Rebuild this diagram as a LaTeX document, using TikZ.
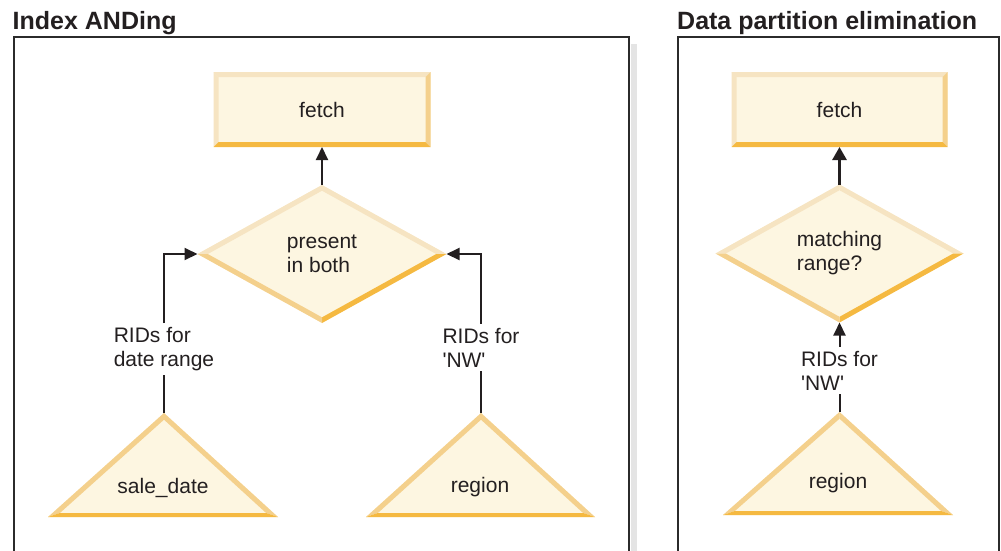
\documentclass[tikz,border=0pt]{standalone}
\usepackage{fontspec}
\setmainfont{Liberation Sans}
\usetikzlibrary{arrows.meta,calc,shapes.geometric}
\definecolor{cream}{HTML}{FDF6E1}
\definecolor{bevP}{HTML}{F6E4C2}
\definecolor{bevM}{HTML}{F4D08C}
\definecolor{bevO}{HTML}{F5B941}
\definecolor{ink}{HTML}{231F20}
\definecolor{framec}{HTML}{2B2B2B}
\definecolor{shadowc}{HTML}{E4E4E4}
\newcommand\bevbox[1]{%
 \fill[bevP] (#1.north west) -- (#1.north east) -- ($(#1.north east)+(-5,5)$) -- ($(#1.north west)+(5,5)$) -- cycle;
 \fill[bevP] (#1.north west) -- ($(#1.north west)+(5,5)$) -- ($(#1.south west)+(5,-5)$) -- (#1.south west) -- cycle;
 \fill[bevM] (#1.north east) -- ($(#1.north east)+(-5,5)$) -- ($(#1.south east)+(-5,-5)$) -- (#1.south east) -- cycle;
 \fill[bevO] (#1.south west) -- (#1.south east) -- ($(#1.south east)+(-5,-5)$) -- ($(#1.south west)+(5,-5)$) -- cycle;}
\newcommand\bevdia[1]{%
 \fill[bevP] (#1.west) -- (#1.north) -- ($(#1.north)+(0,5.7)$) -- ($(#1.west)+(10.3,0)$) -- cycle;
 \fill[bevP] (#1.north) -- (#1.east) -- ($(#1.east)+(-10.3,0)$) -- ($(#1.north)+(0,5.7)$) -- cycle;
 \fill[bevO] (#1.east) -- (#1.south) -- ($(#1.south)+(0,-5.7)$) -- ($(#1.east)+(-10.3,0)$) -- cycle;
 \fill[bevM] (#1.south) -- (#1.west) -- ($(#1.west)+(10.3,0)$) -- ($(#1.south)+(0,-5.7)$) -- cycle;}
\newcommand\bevtri[6]{%
 \coordinate (#1) at (#2,#3);
 \fill[cream] (#2,#3) -- (#4,#6) -- (#5,#6) -- cycle;
 \fill[bevM] (#2,#3) -- (#4,#6) -- ({#4+11.9},{#6-4}) -- (#2,{#3+6.7}) -- cycle;
 \fill[bevM] (#2,#3) -- (#5,#6) -- ({#5-11.9},{#6-4}) -- (#2,{#3+6.7}) -- cycle;
 \fill[bevO] (#4,#6) -- (#5,#6) -- ({#5-11.9},{#6-4}) -- ({#4+11.9},{#6-4}) -- cycle;}
\begin{document}
\begin{tikzpicture}[x=1pt,y=-1pt,
  every node/.style={font=\fontsize{21}{24}\selectfont, text=ink},
  box/.style={rectangle, minimum width=217pt, minimum height=75pt, inner sep=0pt, outer sep=0pt, fill=cream},
  dia/.style={diamond, minimum width=249pt, minimum height=138pt, inner sep=0pt, outer sep=0pt, fill=cream, align=left},
  lbl/.style={fill=white, inner sep=4pt, align=left},
  conn/.style={draw=ink, line width=2pt, -{Triangle[length=13pt,width=12pt]}},
  plain/.style={draw=ink, line width=2pt},
  frame/.style={draw=framec, line width=2.2pt},
  title/.style={font=\fontsize{25}{28}\selectfont\bfseries, anchor=base west, inner sep=0pt}
]
\useasboundingbox (0,0) rectangle (1001,550);
% frames
\fill[shadowc] (631,44) rectangle (637,552);
\draw[frame] (14,552) -- (14,37) -- (629,37) -- (629,552);
\draw[frame] (678,552) -- (678,37) -- (999,37) -- (999,552);
\node[title] (t1) at (12.5,29) {Index ANDing};
\node[title] (t2) at (677,29) {Data partition elimination};
% left panel
\node[box] (fetchA) at (322,109.5) {fetch}; \bevbox{fetchA}
\node[dia] (andA) at (322,254) {present\\in both}; \bevdia{andA}
\bevtri{sdApex}{164}{413}{48}{278}{517}
\node[anchor=base] (sd) at (163,493) {sale\_date};
\bevtri{rgApexA}{481}{413}{366}{595}{517}
\node[anchor=base] (rgA) at (480,492) {region};
\node[lbl] (ridA) at (164,349) {RIDs for\\date range};
\node[lbl] (ridB) at (481,347.5) {RIDs for\\\textquotesingle NW\textquotesingle};
\draw[conn] (andA.north) -- (fetchA.south);
\draw[plain] (sdApex) -- (ridA.south);
\draw[conn] (ridA.north) |- (andA.west);
\draw[plain] (rgApexA) -- (ridB.south);
\draw[conn] (ridB.north) |- (andA.east);
% right panel
\node[box, minimum width=216pt] (fetchB) at (839.5,109.5) {fetch}; \bevbox{fetchB}
\node[dia, minimum width=248pt] (rangeB) at (839.5,253.5) {matching\\range?}; \bevdia{rangeB}
\bevtri{rgApexB}{839.5}{412}{723}{953}{515}
\node[anchor=base] (rgB) at (838,488) {region};
\node[lbl] (ridC) at (839.5,370.5) {RIDs for\\\textquotesingle NW\textquotesingle};
\draw[conn, line width=2.8pt, -{Triangle[length=13pt,width=14pt]}] (rangeB.north) -- (fetchB.south);
\draw[plain] (rgApexB) -- (ridC.south);
\draw[conn] (ridC.north) -- (rangeB.south);
\end{tikzpicture}
\end{document}
